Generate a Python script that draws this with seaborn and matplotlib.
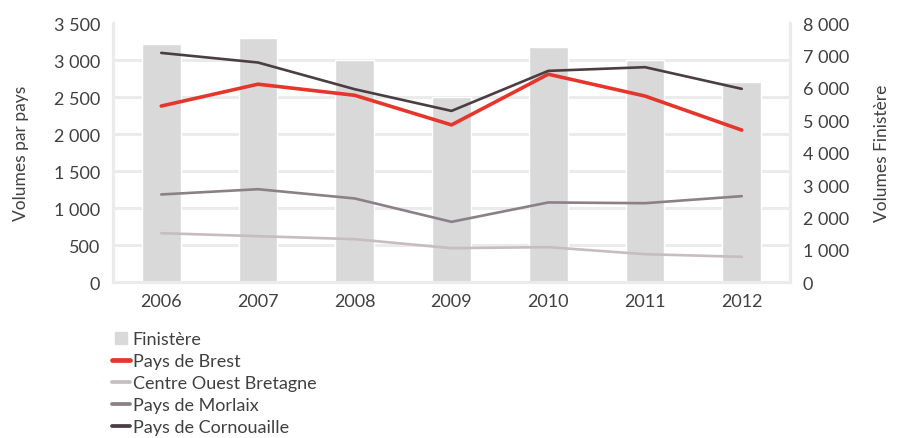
import numpy as np
import pandas as pd
import matplotlib
matplotlib.use('Agg')
from matplotlib import pyplot as plt
from matplotlib.ticker import MultipleLocator, FixedLocator, FuncFormatter
from matplotlib.lines import Line2D
import seaborn as sns

sns.set_style('white')
plt.rcParams['font.family'] = ['Lato', 'DejaVu Sans']

years = ['2006', '2007', '2008', '2009', '2010', '2011', '2012']
finistere = [7350, 7540, 6860, 5710, 7250, 6870, 6190]
brest = [2380, 2675, 2525, 2125, 2810, 2515, 2055]
cob = [662, 621, 581, 459, 473, 378, 342]
morlaix = [1185, 1256, 1131, 815, 1077, 1067, 1162]
cornouaille = [3098, 2968, 2607, 2314, 2855, 2905, 2612]

series = ['Pays de Brest', 'Centre Ouest Bretagne', 'Pays de Morlaix', 'Pays de Cornouaille']
colors = ['#e5362c', '#c7bcc1', '#8c8087', '#4a3e44']
widths = [2.6, 1.9, 1.9, 1.9]

df_bar = pd.DataFrame({'year': years, 'Finistère': finistere})
df_lines = pd.DataFrame({'year': years, 'Pays de Brest': brest,
                         'Centre Ouest Bretagne': cob,
                         'Pays de Morlaix': morlaix,
                         'Pays de Cornouaille': cornouaille})
df_long = df_lines.melt(id_vars='year', var_name='pays', value_name='volume')

txt = '#404040'
grid_c = '#ebebeb'
fmt = FuncFormatter(lambda v, p: '{:,.0f}'.format(v).replace(',', ' '))

fig = plt.figure(figsize=(9.03, 4.39), dpi=100)
ax_bar = fig.add_axes([0.125, 0.355, 0.75, 0.59])
ax = ax_bar.twinx()

sns.barplot(data=df_bar, x='year', y='Finistère', color='#d9d9d9',
            width=0.4, ax=ax_bar, zorder=2, saturation=1)
sns.lineplot(data=df_long, x='year', y='volume', hue='pays',
             hue_order=series, palette=colors, ax=ax, legend=False, sort=False)
for line, lw in zip(ax.lines, widths):
    line.set_linewidth(lw)

# bars on the right scale, lines on the left scale
ax_bar.yaxis.tick_right()
ax_bar.yaxis.set_label_position('right')
ax.yaxis.tick_left()
ax.yaxis.set_label_position('left')

ax_bar.set_ylim(0, 8000)
ax.set_ylim(0, 3500)
ax_bar.set_xlim(-0.5, 6.5)
ax_bar.yaxis.set_major_locator(MultipleLocator(1000))
ax.yaxis.set_major_locator(MultipleLocator(500))
ax_bar.yaxis.set_major_formatter(fmt)
ax.yaxis.set_major_formatter(fmt)

# gridlines following the left scale, drawn behind the bars
ax_bar.yaxis.set_minor_locator(MultipleLocator(8000 / 7))
ax_bar.grid(which='minor', axis='y', color=grid_c, lw=2.2, zorder=0)
ax_bar.set_axisbelow(True)

ax_bar.xaxis.set_minor_locator(FixedLocator(np.arange(-0.5, 7, 1)))
ax_bar.tick_params(axis='x', which='major', length=0, labelsize=13, labelcolor=txt, pad=8)
ax_bar.tick_params(axis='x', which='minor', length=5, width=2, color=grid_c, direction='out')
ax_bar.tick_params(axis='y', which='both', length=0, labelsize=13, labelcolor=txt, pad=9)
ax.tick_params(axis='y', length=0, labelsize=13, labelcolor=txt, pad=9)

for a in (ax_bar, ax):
    a.spines['top'].set_visible(False)
    for s in ['left', 'right', 'bottom']:
        a.spines[s].set_color(grid_c)
        a.spines[s].set_linewidth(2.2)

ax_bar.set_xlabel('')
ax_bar.set_ylabel('Volumes Finistère', fontsize=12.5, color=txt, labelpad=18)
ax.set_ylabel('Volumes par pays', fontsize=12.5, color=txt, labelpad=18)
ax_bar.set_zorder(1)
ax.set_zorder(2)
ax.patch.set_visible(False)

handles = [Line2D([], [], color='#d9d9d9', marker='s', markersize=8, lw=0,
                  label='Finistère')]
for name, c, lw in zip(series, colors, widths):
    handles.append(Line2D([], [], color=c, lw=lw + 0.8, label=name))
leg = fig.legend(handles=handles, loc='upper left', bbox_to_anchor=(0.124, 0.243),
                 frameon=False, fontsize=13, handlelength=1.0,
                 handletextpad=0.15, labelspacing=0.33, borderpad=0, borderaxespad=0)
for t in leg.get_texts():
    t.set_color(txt)

fig.savefig('out.png', dpi=100)
